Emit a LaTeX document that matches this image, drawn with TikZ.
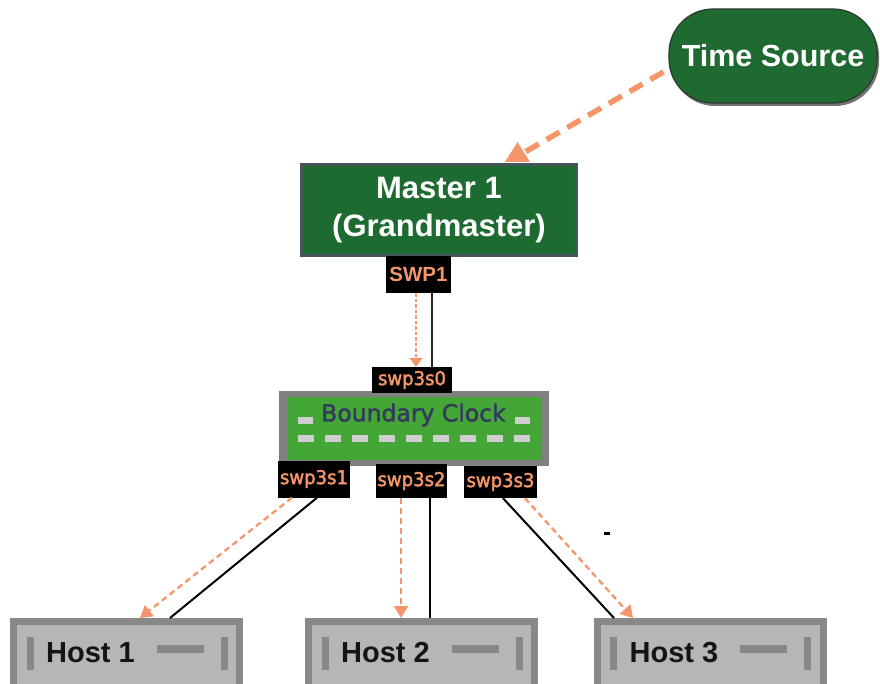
\documentclass[tikz,border=0pt]{standalone}
\usepackage{fontspec}
\setmainfont{Liberation Sans}
\newfontfamily\portfont[FakeBold=2.2,FakeStretch=0.95]{DejaVu Sans}
\newfontfamily\bcfont[FakeBold=1.8]{DejaVu Sans}
\usetikzlibrary{shadows,arrows.meta}

\definecolor{tsgreen}{HTML}{1E6A30}
\definecolor{tsedge}{HTML}{2C3A30}
\definecolor{mgreen}{HTML}{1D6B30}
\definecolor{medge}{HTML}{46555B}
\definecolor{syncorange}{HTML}{F4956A}
\definecolor{bcgray}{HTML}{808080}
\definecolor{bcgreen}{HTML}{44A637}
\definecolor{bcdash}{HTML}{CFCFCF}
\definecolor{bctext}{HTML}{323C5A}
\definecolor{hostedge}{HTML}{888888}
\definecolor{hostfill}{HTML}{B6B6B6}

\tikzset{
  portbox/.style={fill=black, inner sep=0pt, text=syncorange},
  portlabel/.style={font=\portfont\fontsize{19}{21}\selectfont},
  hostbox/.style={draw=hostedge, line width=7pt, fill=hostfill, minimum width=226pt, minimum height=69pt, inner sep=0pt},
  hostmark/.style={fill=hostedge},
  cable/.style={draw=black, line width=2pt},
  thincable/.style={draw=black!85, line width=1.8pt},
  syncline/.style={draw=syncorange, line width=2.3pt, dash pattern=on 6pt off 4pt,
    -{Triangle[width=14pt,length=12pt]}},
  thinsync/.style={draw=syncorange, line width=1.8pt, dash pattern=on 3.5pt off 2pt,
    -{Triangle[width=13pt,length=9pt]}},
  refline/.style={draw=syncorange, line width=5.5pt, dash pattern=on 15pt off 9pt},
}

\begin{document}
\begin{tikzpicture}[x=1pt,y=-1pt]
\useasboundingbox (0,0) rectangle (880,684);

% reference clock
\node[fill=tsgreen, draw=tsedge, line width=1.2pt, rounded corners=44pt,
      minimum width=208pt, minimum height=94pt, inner sep=0pt,
      drop shadow={shadow xshift=2pt, shadow yshift=-3pt, opacity=0.55, fill=black},
      text=white, font=\fontsize{30.5}{36}\selectfont\bfseries]
  (ts) at (773,56) {Time Source};

% grandmaster
\node[fill=mgreen, draw=medge, line width=3pt, minimum width=275pt, minimum height=91pt,
      inner sep=0pt, align=center, text=white, font=\fontsize{31}{38}\selectfont\bfseries]
  (master) at (439,210) {Master 1\\(Grandmaster)};
\node[portbox, minimum width=65pt, minimum height=37pt,
      font=\fontsize{20.5}{22}\selectfont\bfseries] (swp1) at (418.5,274.5) {SWP1};

% boundary clock switch
\node[fill=bcgray, minimum width=270pt, minimum height=75pt, inner sep=0pt] (bco) at (414,428.5) {};
\node[fill=bcgreen, minimum width=254pt, minimum height=63pt, inner sep=0pt] (bc) at (415,428.5) {};
\foreach \i in {0,...,8}
  \fill[bcdash] (298+27*\i,435) rectangle ++(16,7);
\fill[bcdash] (298,417) rectangle ++(15,7);
\fill[bcdash] (515,417) rectangle ++(15,7);
\node[text=bctext, font=\bcfont\fontsize{23.5}{26}\selectfont, inner sep=0pt] (bclabel) at (413.5,415) {Boundary Clock};

\node[portbox, portlabel, minimum width=80pt, minimum height=26pt] (p0) at (412,380) {swp3s0};
\node[portbox, portlabel, minimum width=72pt, minimum height=37pt] (s1) at (314,479) {swp3s1};
\node[portbox, portlabel, minimum width=71pt, minimum height=34pt] (s2) at (411.5,481) {swp3s2};
\node[portbox, portlabel, minimum width=73pt, minimum height=32pt] (s3) at (500.5,482) {swp3s3};

% hosts
\foreach \h/\cx/\t in {h1/126.5/Host 1, h2/421.5/Host 2, h3/710/Host 3}{
  \node[hostbox] (\h) at (\cx,656) {};
  \fill[hostmark] (\cx-100,637) rectangle (\cx-93,670);
  \fill[hostmark] (\cx+30,645) rectangle (\cx+77,653);
  \fill[hostmark] (\cx+94,637) rectangle (\cx+101,670);
  \node[text=black!92, font=\fontsize{29}{32}\selectfont\bfseries, inner sep=0pt]
    at ([xshift=-36pt,yshift=3pt]\h.center) {\t};
}

% time source to grandmaster
\draw[refline] ([xshift=-5pt,yshift=-16pt]ts.west) -- ([xshift=86pt,yshift=11pt]master.north);
\fill[syncorange] ([xshift=66pt,yshift=1pt]master.north) -- ([xshift=91pt,yshift=1pt]master.north)
  -- ([xshift=78.5pt,yshift=21pt]master.north) -- cycle;

% grandmaster to boundary clock
\draw[thinsync] ([xshift=-2.5pt]swp1.south) -- ([xshift=4pt]p0.north);
\draw[thincable] ([xshift=13.5pt]swp1.south) -- ([xshift=20pt]p0.north);

% boundary clock to hosts
\draw[cable] ([xshift=3pt]s1.south) -- ([xshift=43.5pt]h1.north);
\draw[syncline] ([xshift=-22pt]s1.south) -- ([xshift=13.5pt]h1.north);
\draw[syncline] ([xshift=-10.5pt]s2.south) -- ([xshift=-20.5pt]h2.north);
\draw[cable] ([xshift=18.5pt]s2.south) -- ([xshift=8.5pt]h2.north);
\draw[cable] ([xshift=2.5pt]s3.south) -- ([xshift=-96pt]h3.north);
\draw[syncline] ([xshift=24.5pt]s3.south) -- ([xshift=-77pt]h3.north);

% stray tick mark
\fill[black] (604,532) rectangle (610,534.5);
\end{tikzpicture}
\end{document}
